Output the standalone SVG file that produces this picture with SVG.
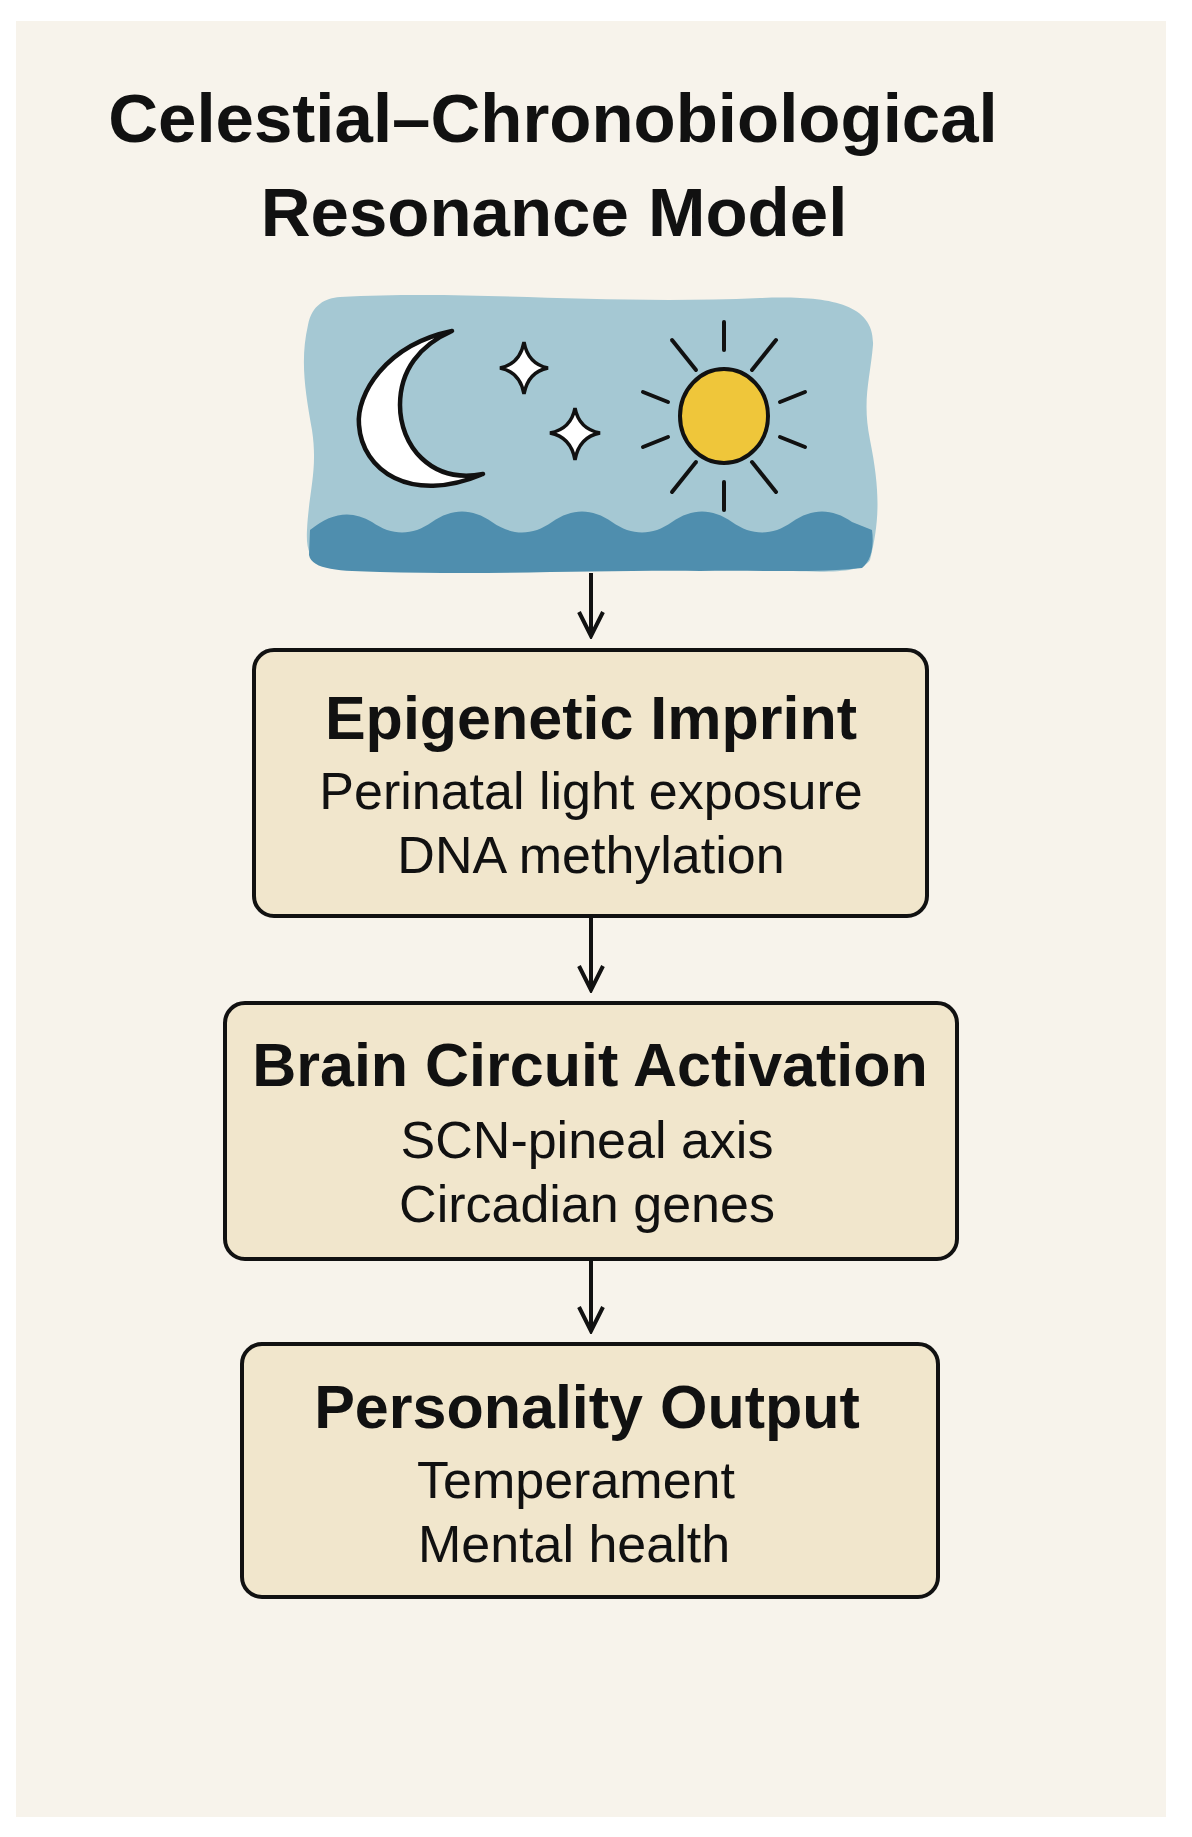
<svg xmlns="http://www.w3.org/2000/svg" width="1192" height="1837" viewBox="0 0 1192 1837">
<style>
.t{font-family:"Liberation Sans",Arial,sans-serif;font-weight:bold;fill:#111;text-anchor:middle}
.s{font-family:"Liberation Sans",Arial,sans-serif;fill:#111;text-anchor:middle;font-size:52px}
.box{fill:#f1e6cc;stroke:#111;stroke-width:4}
.ln{stroke:#111;stroke-width:4;fill:none}
.ray{stroke:#111;stroke-width:4;stroke-linecap:round}
</style>
<defs>
<marker id="a" viewBox="0 0 30 30" refX="27" refY="15" markerWidth="30" markerHeight="30" orient="auto" markerUnits="userSpaceOnUse"><path d="M3,3 L27,15 L3,27" fill="none" stroke="#111" stroke-width="4"/></marker></defs>
<rect width="1192" height="1837" fill="#ffffff"/>
<rect x="16" y="21" width="1150" height="1796" fill="#f7f3eb"/>
<text class="t" x="553" y="142" font-size="69">Celestial–Chronobiological</text>
<text class="t" x="554" y="236" font-size="69">Resonance Model</text>
<g id="sky">
<path d="M340,297 C480,290 600,305 760,298 C820,296 875,300 873,345 C870,380 862,400 870,440 C880,490 880,520 870,560 C860,575 820,572 760,570 C620,568 500,575 360,570 C320,569 305,565 307,530 C309,490 318,470 312,430 C305,390 300,360 308,325 C312,305 325,298 340,297 Z" fill="#a5c8d3"/>
<path d="M310,530 C332,512 352,510 372,522 C392,536 412,536 432,522 C452,508 472,508 492,522 C512,536 532,536 552,522 C572,508 592,508 612,522 C632,536 652,536 672,522 C692,508 712,508 732,522 C752,536 772,536 792,522 C812,508 832,508 852,522 L872,530 C874,545 872,560 862,568 C820,573 760,570 700,571 C600,570 500,575 380,572 C340,571 312,570 309,555 Z" fill="#4f8eae"/>
<path d="M452,331 C385,345 356,395 359,425 C362,470 410,505 483,474 C430,484 400,445 400,405 C400,370 420,345 452,331 Z" fill="#fff" stroke="#111" stroke-width="4.5" stroke-linejoin="round"/>
<path d="M524,342 Q528,364 548,368 Q528,372 524,394 Q520,372 500,368 Q520,364 524,342 Z" fill="#fff" stroke="#111" stroke-width="3.5"/>
<path d="M575,408 Q579,429 600,433 Q579,437 575,460 Q571,437 550,433 Q571,429 575,408 Z" fill="#fff" stroke="#111" stroke-width="3.5"/>
<ellipse cx="724" cy="416" rx="44" ry="47" fill="#efc63a" stroke="#111" stroke-width="4"/>
<g class="ray">
<line x1="724" y1="322" x2="724" y2="350"/><line x1="724" y1="482" x2="724" y2="510"/>
<line x1="672" y1="340" x2="696" y2="370"/><line x1="776" y1="340" x2="752" y2="370"/>
<line x1="672" y1="492" x2="696" y2="462"/><line x1="776" y1="492" x2="752" y2="462"/>
<line x1="643" y1="392" x2="668" y2="402"/><line x1="805" y1="392" x2="780" y2="402"/>
<line x1="643" y1="447" x2="668" y2="437"/><line x1="805" y1="447" x2="780" y2="437"/>
</g>
</g>
<g id="connectors">
<line class="ln" x1="591" y1="573" x2="591" y2="636" marker-end="url(#a)"/>
<line class="ln" x1="591" y1="916" x2="591" y2="990" marker-end="url(#a)"/>
<line class="ln" x1="591" y1="1259" x2="591" y2="1331" marker-end="url(#a)"/>
</g>
<g id="epigenetic">
<rect class="box" x="254" y="650" width="673" height="266" rx="20"/>
<text class="t" x="591" y="739" font-size="61">Epigenetic Imprint</text>
<text class="s" x="591" y="809">Perinatal light exposure</text>
<text class="s" x="591" y="873">DNA methylation</text>
</g>
<g id="brain">
<rect class="box" x="225" y="1003" width="732" height="256" rx="20"/>
<text class="t" x="590" y="1086" font-size="61">Brain Circuit Activation</text>
<text class="s" x="587" y="1158">SCN-pineal axis</text>
<text class="s" x="587" y="1222">Circadian genes</text>
</g>
<g id="personality">
<rect class="box" x="242" y="1344" width="696" height="253" rx="20"/>
<text class="t" x="587" y="1428" font-size="61">Personality Output</text>
<text class="s" x="576" y="1498">Temperament</text>
<text class="s" x="574" y="1562">Mental health</text>
</g>
</svg>
